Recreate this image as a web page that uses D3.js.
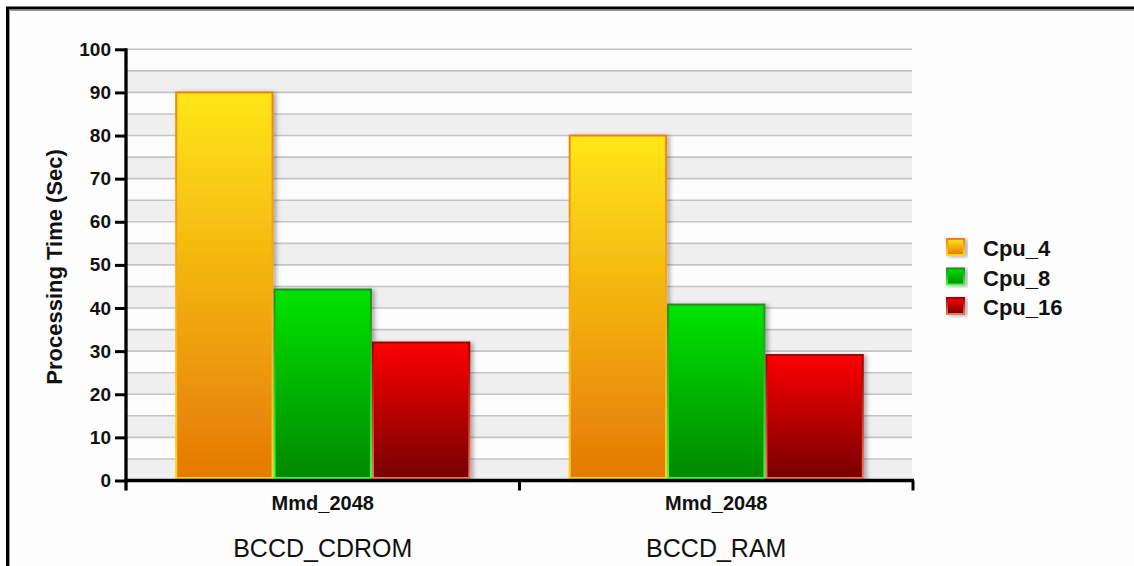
<!DOCTYPE html>
<html>
<head>
<meta charset="utf-8">
<script src="https://cdn.jsdelivr.net/npm/d3@7"></script>
<style>
  html, body { margin: 0; padding: 0; background: #ffffff; overflow: hidden; }
  svg { display: block; font-family: "Liberation Sans", Arial, sans-serif; }
</style>
</head>
<body>
<svg id="chart" width="1134" height="566"></svg>
<script>
// Processing time per configuration and CPU count
const groups = ["BCCD_CDROM", "BCCD_RAM"];
const subLabels = ["Mmd_2048", "Mmd_2048"];
const seriesNames = ["Cpu_4", "Cpu_8", "Cpu_16"];
const cpu4 = [90, 80];
const cpu8 = [44.3, 40.8];
const cpu16 = [32, 29.1];
const yTicks = [0, 10, 20, 30, 40, 50, 60, 70, 80, 90, 100];
const yTitle = "Processing Time (Sec)";

const seriesValues = [cpu4, cpu8, cpu16];

// Fill/border gradient stops per series: [top, bottom]
const palette = {
  "Cpu_4":  { fill: ["#ffe619", "#e57904"], stroke: ["#ee8410", "#ffd41c"] },
  "Cpu_8":  { fill: ["#00e400", "#008800"], stroke: ["#218a21", "#3cff3c"] },
  "Cpu_16": { fill: ["#ff0000", "#760000"], stroke: ["#9c0000", "#f27452"] }
};

const svg = d3.select("#chart");
const defs = svg.append("defs");

// Outer frame: panel background with top and left borders
svg.append("rect")
  .attr("x", 8).attr("y", 9).attr("width", 1126).attr("height", 557)
  .attr("fill", "#fdfdfd");
svg.append("path")
  .attr("d", "M7.5,566 V8 H1134")
  .attr("fill", "none").attr("stroke", "#000").attr("stroke-width", 3);
svg.append("path")
  .attr("d", "M9.5,566 V10.5 H1134")
  .attr("fill", "none").attr("stroke", "#9a9a9a").attr("stroke-width", 1);

const plotLeft = 126, plotRight = 913, plotTop = 49.3, plotBottom = 480.5;

const y = d3.scaleLinear().domain([0, 100]).range([plotBottom, plotTop]);
const x0 = d3.scaleBand().domain(groups).range([plotLeft, plotRight]).padding(0);
const x1 = d3.scaleBand().domain(seriesNames).range([0, x0.bandwidth()])
  .paddingInner(0).paddingOuter(0.5);

// Gradients
seriesNames.forEach((s, i) => {
  const gf = defs.append("linearGradient").attr("id", "fill" + i)
    .attr("x1", 0).attr("y1", 0).attr("x2", 0).attr("y2", 1);
  gf.append("stop").attr("offset", "0%").attr("stop-color", palette[s].fill[0]);
  gf.append("stop").attr("offset", "100%").attr("stop-color", palette[s].fill[1]);
  const gs = defs.append("linearGradient").attr("id", "stroke" + i)
    .attr("gradientUnits", "objectBoundingBox")
    .attr("x1", 0).attr("y1", 0).attr("x2", 0).attr("y2", 1);
  gs.append("stop").attr("offset", "0%").attr("stop-color", palette[s].stroke[0]);
  gs.append("stop").attr("offset", "100%").attr("stop-color", palette[s].stroke[1]);
});

const shadow = defs.append("filter").attr("id", "shadow")
  .attr("x", "-10%").attr("y", "-10%").attr("width", "130%").attr("height", "130%");
shadow.append("feDropShadow").attr("dx", 3).attr("dy", 1).attr("stdDeviation", 2)
  .attr("flood-color", "#000").attr("flood-opacity", 0.3);

// Alternating bands every 5 units
const bandStarts = d3.range(0, 100, 5);
svg.append("g").selectAll("rect").data(bandStarts.filter(v => (v / 5) % 2 === 0))
  .join("rect")
  .attr("x", plotLeft).attr("width", plotRight - plotLeft - 1)
  .attr("y", d => y(d + 5)).attr("height", d => y(d) - y(d + 5))
  .attr("fill", "#efefef");

// Gridlines every 5 units
svg.append("g").selectAll("line").data(d3.range(5, 101, 5))
  .join("line")
  .attr("x1", plotLeft).attr("x2", plotRight - 1)
  .attr("y1", d => y(d)).attr("y2", d => y(d))
  .attr("stroke", "#c4c4c4").attr("stroke-width", 1.6);

// Bars
const barG = svg.append("g");
groups.forEach((g, gi) => {
  seriesNames.forEach((s, si) => {
    const v = seriesValues[si][gi];
    barG.append("rect")
      .attr("x", x0(g) + x1(s) + 1)
      .attr("y", y(v))
      .attr("width", x1.bandwidth() - 2)
      .attr("height", y(0) - y(v) - 2.5)
      .attr("fill", "url(#fill" + si + ")")
      .attr("stroke", "url(#stroke" + si + ")")
      .attr("stroke-width", 2)
      .attr("filter", "url(#shadow)");
  });
});

// Y axis
const yAxis = d3.axisLeft(y).tickValues(yTicks).tickSize(11).tickPadding(4);
const yg = svg.append("g").attr("transform", `translate(${plotLeft},0)`).call(yAxis);
yg.select(".domain").remove();
yg.selectAll(".tick line").attr("stroke", "#000").attr("stroke-width", 3);
yg.selectAll(".tick text")
  .attr("fill", "#111").attr("font-size", 19).attr("font-weight", "bold")
  .attr("font-family", "'Liberation Sans', Arial, sans-serif");
yg.append("line").attr("x1", 0).attr("x2", 0)
  .attr("y1", plotTop - 1).attr("y2", plotBottom + 10)
  .attr("stroke", "#000").attr("stroke-width", 3.3);

// X axis
const xTickPos = [plotLeft, ...groups.map(g => x0(g) + x0.bandwidth())];
svg.append("line").attr("x1", plotLeft).attr("x2", plotRight + 1)
  .attr("y1", plotBottom).attr("y2", plotBottom)
  .attr("stroke", "#000").attr("stroke-width", 3.3);
svg.append("g").selectAll("line").data(xTickPos.slice(1)).join("line")
  .attr("x1", d => d).attr("x2", d => d)
  .attr("y1", plotBottom).attr("y2", plotBottom + 10)
  .attr("stroke", "#000").attr("stroke-width", 3);

// Sub-category and category labels
svg.append("g").selectAll("text").data(groups).join("text")
  .attr("x", d => x0(d) + x0.bandwidth() / 2)
  .attr("y", 510)
  .attr("text-anchor", "middle")
  .attr("font-size", 20).attr("font-weight", "bold").attr("fill", "#111")
  .text((d, i) => subLabels[i]);
svg.append("g").selectAll("text").data(groups).join("text")
  .attr("x", d => x0(d) + x0.bandwidth() / 2)
  .attr("y", 557)
  .attr("text-anchor", "middle")
  .attr("font-size", 25).attr("fill", "#111")
  .text(d => d);

// Y axis title
svg.append("text")
  .attr("transform", `translate(62,${(plotTop + plotBottom) / 2 + 2}) rotate(-90)`)
  .attr("text-anchor", "middle")
  .attr("font-size", 22).attr("font-weight", "bold").attr("fill", "#111")
  .text(yTitle);

// Legend
const legend = svg.append("g").attr("transform", "translate(946,238)");
seriesNames.forEach((s, i) => {
  const row = legend.append("g").attr("transform", `translate(0,${i * 29.5})`);
  row.append("rect")
    .attr("x", 1).attr("y", 1).attr("width", 17).attr("height", 16)
    .attr("fill", "url(#fill" + i + ")")
    .attr("stroke", "url(#stroke" + i + ")").attr("stroke-width", 2)
    .attr("filter", "url(#shadow)");
  row.append("text")
    .attr("x", 37).attr("y", 18)
    .attr("font-size", 22).attr("font-weight", "bold").attr("fill", "#111")
    .text(s);
});
</script>
</body>
</html>
